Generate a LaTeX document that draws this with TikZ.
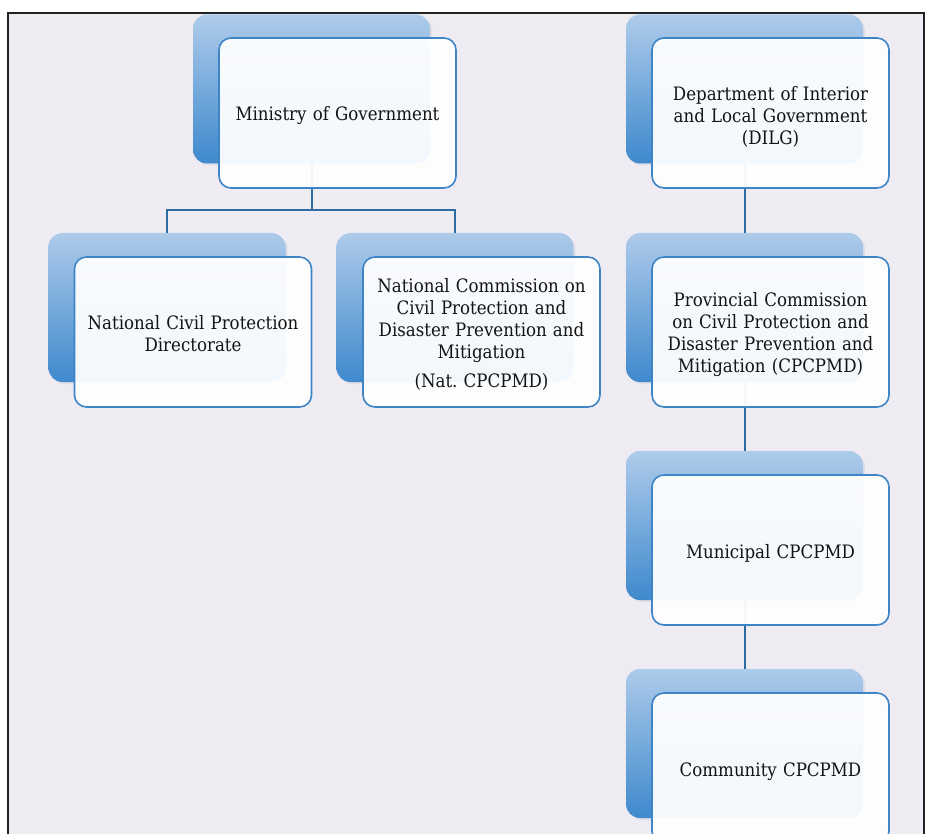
\documentclass[tikz,border=0pt]{standalone}
\usepackage{fontspec}
\setmainfont{DejaVu Serif}[FakeStretch=0.9]
\usetikzlibrary{shadows}
\definecolor{bgc}{RGB}{238,235,243}
\definecolor{framec}{RGB}{34,34,34}
\definecolor{shtop}{RGB}{174,203,234}
\definecolor{shbot}{RGB}{62,137,205}
\definecolor{edgec}{RGB}{61,133,198}
\definecolor{connc}{RGB}{44,108,158}
\definecolor{txtc}{RGB}{20,20,20}
\tikzset{
  backbox/.style={rectangle, rounded corners=14pt, minimum width=237pt, minimum height=149pt,
    top color=shtop, bottom color=shbot, draw=none,
    drop shadow={opacity=0.12, shadow xshift=2pt, shadow yshift=-2pt}},
  frontbox/.style={rectangle, rounded corners=12pt, minimum width=237pt, minimum height=150pt,
    fill=white, fill opacity=0.94, draw=edgec, draw opacity=1, line width=1.6pt},
  boxtext/.style={text width=230pt, align=center, text=txtc, inner sep=0pt,
    font=\fontsize{18.5}{22}\selectfont},
  conn/.style={draw=connc, line width=2pt}
}
\frenchspacing
\begin{document}
\begin{tikzpicture}[x=1pt,y=-1pt]
\useasboundingbox (0,0) rectangle (926,834);
\clip (0,0) rectangle (926,834);
\fill[white] (0,0) rectangle (926,834);
\fill[bgc] (8,13) rectangle (924,834);
\draw[framec, line width=2.5pt] (8,840) -- (8,13) -- (924,13) -- (924,840);

% back (shadow) boxes
\node[backbox] (ms) at (311.5,89) {};
\node[backbox] (ns) at (167,307.5) {};
\node[backbox] (cs) at (455,307.5) {};
\node[backbox] (ds) at (744.5,89) {};
\node[backbox] (ps) at (744.5,307.5) {};
\node[backbox] (us) at (744.5,525.5) {};
\node[backbox] (ys) at (744.5,743.5) {};

% connectors
\draw[conn] (ms.south) -- ++(0,46) -| (ns.north);
\draw[conn] (ms.south) -- ++(0,46) -| (cs.north);
\draw[conn] (ds.south) -- (ps.north);
\draw[conn] (ps.south) -- (us.north);
\draw[conn] (us.south) -- (ys.north);

% front boxes
\node[frontbox] (m) at (337.5,113) {};
\node[frontbox] (n) at (193,332) {};
\node[frontbox] (c) at (481.5,332) {};
\node[frontbox] (d) at (770.5,113) {};
\node[frontbox] (p) at (770.5,332) {};
\node[frontbox] (u) at (770.5,550) {};
\node[frontbox] (y) at (770.5,768) {};

% texts
\node[boxtext] (mt) at ([yshift=-3pt]m.center) {Ministry of Government};
\node[boxtext] (nt) at ([yshift=-1.5pt]n.center) {National Civil Protection\\Directorate};
\node[boxtext] (ct) at ([yshift=-2pt]c.center) {National Commission on\\Civil Protection and\\Disaster Prevention and\\Mitigation\\[7pt](Nat. CPCPMD)};
\node[boxtext] (dt) at ([yshift=-3.5pt]d.center) {Department of Interior\\and Local Government\\(DILG)};
\node[boxtext] (pt) at ([yshift=-2.5pt]p.center) {Provincial Commission\\on Civil Protection and\\Disaster Prevention and\\Mitigation (CPCPMD)};
\node[boxtext] (ut) at ([yshift=-3pt]u.center) {Municipal CPCPMD};
\node[boxtext] (yt) at ([yshift=-3.5pt]y.center) {Community CPCPMD};
\end{tikzpicture}
\end{document}
